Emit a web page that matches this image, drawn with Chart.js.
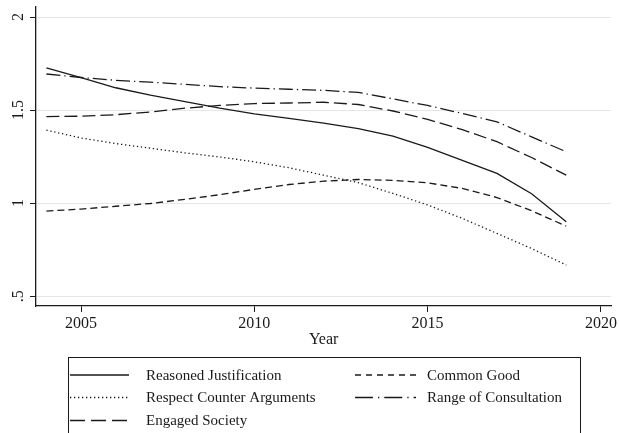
<!DOCTYPE html>
<html>
<head>
<meta charset="utf-8">
<script src="https://cdn.jsdelivr.net/npm/chart.js@4"></script>
<style>
  html, body { margin: 0; padding: 0; background: #fff; }
  #wrap { width: 619px; height: 433px; }
</style>
</head>
<body>
<div id="wrap"><canvas id="myChart" width="619" height="433"></canvas></div>
<script>
// years on the x axis
const years = [2004, 2005, 2006, 2007, 2008, 2009, 2010, 2011, 2012, 2013, 2014, 2015, 2016, 2017, 2018, 2019];

// series values
const reasonedJustification = [1.727, 1.675, 1.62, 1.58, 1.545, 1.51, 1.48, 1.455, 1.43, 1.40, 1.36, 1.30, 1.23, 1.16, 1.05, 0.90];
const commonGood = [0.957, 0.968, 0.983, 0.998, 1.02, 1.045, 1.074, 1.10, 1.118, 1.127, 1.122, 1.109, 1.079, 1.03, 0.959, 0.876];
const respectCounterArguments = [1.392, 1.35, 1.32, 1.295, 1.27, 1.248, 1.222, 1.19, 1.15, 1.11, 1.052, 0.99, 0.918, 0.837, 0.756, 0.667];
const rangeOfConsultation = [1.694, 1.675, 1.66, 1.65, 1.638, 1.626, 1.618, 1.612, 1.606, 1.595, 1.56, 1.525, 1.482, 1.437, 1.356, 1.276];
const engagedSociety = [1.465, 1.467, 1.475, 1.49, 1.51, 1.525, 1.535, 1.538, 1.542, 1.53, 1.495, 1.45, 1.395, 1.33, 1.245, 1.15];

const xTicks = [2005, 2010, 2015, 2020];
const yTicks = [0.5, 1, 1.5, 2];

const serif = '"Liberation Serif", "Times New Roman", serif';
const ink = '#1a1a1a';

function makeSet(label, values, dash, col) {
    return {
        label: label,
        data: values.map((v, i) => ({ x: years[i], y: v })),
        borderColor: ink,
        backgroundColor: ink,
        borderWidth: 1.3,
        borderDash: dash,
        pointRadius: 0,
        tension: 0,
        legendCol: col
    };
}

// legend drawn in a box under the axis, two columns like the original
const boxLegend = {
    id: 'boxLegend',
    afterDraw(chart) {
        const ctx = chart.ctx;
        ctx.save();
        ctx.strokeStyle = ink;
        ctx.lineWidth = 1;
        ctx.strokeRect(68.5, 357.5, 512, 90);

        const rows = [375, 397.5, 420.5];
        const cols = [{ x0: 70, x1: 129, tx: 146 }, { x0: 355, x1: 416, tx: 427 }];
        const counters = [0, 0];
        ctx.font = '15px ' + serif;
        ctx.textBaseline = 'middle';
        ctx.fillStyle = ink;
        chart.data.datasets.forEach(ds => {
            const c = cols[ds.legendCol];
            const y = rows[counters[ds.legendCol]++];
            ctx.beginPath();
            ctx.setLineDash(ds.legendDash || ds.borderDash);
            ctx.lineWidth = 1.3;
            ctx.moveTo(c.x0, y);
            ctx.lineTo(c.x1, y);
            ctx.stroke();
            ctx.setLineDash([]);
            ctx.fillText(ds.label, c.tx, y + 1);
        });
        ctx.restore();
    }
};

const sets = [
    makeSet('Reasoned Justification', reasonedJustification, [], 0),
    makeSet('Respect Counter Arguments', respectCounterArguments, [1.3, 2.7], 0),
    makeSet('Engaged Society', engagedSociety, [13, 5], 0),
    makeSet('Common Good', commonGood, [7, 4], 1),
    makeSet('Range of Consultation', rangeOfConsultation, [14, 4, 1.3, 4], 1)
];
sets[2].legendDash = [15, 6];
sets[3].legendDash = [6, 5];
sets[4].legendDash = [18, 5, 1.3, 5];

const config = {
    type: 'line',
    data: { datasets: sets },
    plugins: [boxLegend],
    options: {
        responsive: false,
        animation: false,
        layout: { padding: { top: 7, right: 5, bottom: 84, left: 0 } },
        plugins: { legend: { display: false }, tooltip: { enabled: false } },
        scales: {
            x: {
                type: 'linear',
                min: 2003.7,
                max: 2020.3,
                afterBuildTicks: axis => { axis.ticks = xTicks.map(v => ({ value: v })); },
                afterFit: axis => { axis.height = 43; },
                grid: { drawOnChartArea: false, tickLength: 6, tickColor: ink, tickWidth: 1 },
                border: { color: ink, width: 1.3 },
                ticks: {
                    color: ink, font: { family: serif, size: 16 }, padding: 2, maxRotation: 0, autoSkip: false,
                    callback: v => String(v)
                },
                title: { display: true, text: 'Year', color: ink, font: { family: serif, size: 16 }, padding: 0 }
            },
            y: {
                type: 'linear',
                min: 0.447,
                max: 2.054,
                afterBuildTicks: axis => { axis.ticks = yTicks.map(v => ({ value: v })); },
                afterFit: axis => { axis.width = 36; axis.paddingTop = 0; axis.paddingBottom = 0; },
                grid: { color: '#e6e6e6', lineWidth: 1, tickLength: 6, tickColor: ink, tickWidth: 1 },
                border: { color: ink, width: 1.3 },
                ticks: {
                    color: ink,
                    font: { family: serif, size: 16 },
                    minRotation: 90,
                    maxRotation: 90,
                    crossAlign: 'center',
                    padding: 1,
                    autoSkip: false,
                    callback: v => (v === 0.5 ? '.5' : String(v))
                }
            }
        }
    }
};

var myChart = new Chart(document.getElementById('myChart'), config);
</script>
</body>
</html>
